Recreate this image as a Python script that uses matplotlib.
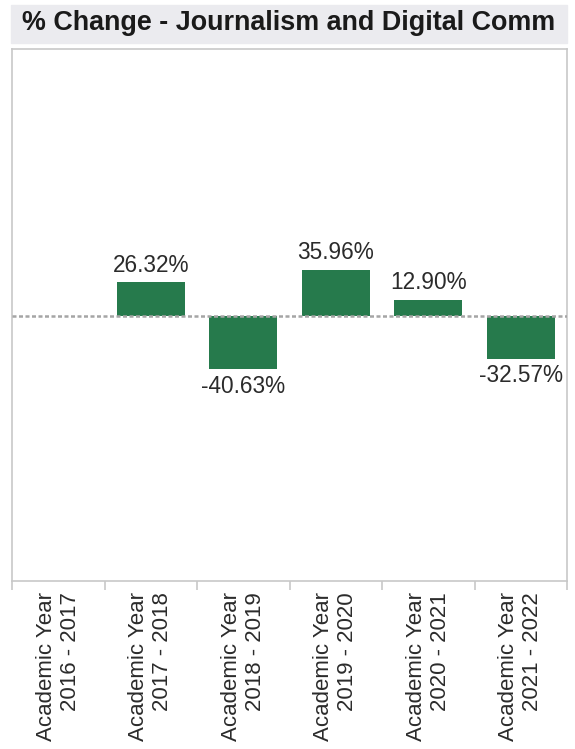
import matplotlib
matplotlib.use("Agg")
import matplotlib.pyplot as plt
from matplotlib.patches import Rectangle
from matplotlib.transforms import blended_transform_factory

# Year-over-year % change in enrolment
years = ["2016 - 2017", "2017 - 2018", "2018 - 2019",
         "2019 - 2020", "2020 - 2021", "2021 - 2022"]
pct_change = [None, 26.32, -40.63, 35.96, 12.90, -32.57]
title = "% Change - Journalism and Digital Comm"

plt.rcParams["font.family"] = ["Liberation Sans", "DejaVu Sans"]

W, H = 575, 749
fig = plt.figure(figsize=(W / 100, H / 100), dpi=100)

# grey title strip
fig.patches.append(Rectangle((11 / W, 1 - 43 / H), 556 / W, 38 / H,
                             transform=fig.transFigure, color="#ebebef", zorder=0))
fig.text(289 / W, 1 - 23 / H, title, ha="center", va="center",
         fontsize=19.4, fontweight="bold", color="#1a1a1a")

ax = fig.add_axes([12 / W, 1 - 581 / H, 555 / W, 532 / H])

x = list(range(len(years)))
for xi, v in zip(x, pct_change):
    if v is None:
        continue
    ax.bar(xi, v, width=0.73, color="#267a4c", zorder=2)
    off = 4 if v > 0 else -4
    ax.annotate(f"{v:.2f}%", (xi, v), xytext=(0, off), textcoords="offset points",
                ha="center", va="bottom" if v > 0 else "top",
                fontsize=16.3, color="#2b2b2b")

ax.axhline(0, color="#a5a5a5", lw=1.8, ls=(0, (1.6, 1.0)), zorder=3)

ax.set_xlim(-0.5, len(years) - 0.5)
ax.set_ylim(-204, 206)
ax.set_yticks([])

# ticks sit on the category boundaries
ax.set_xticks([i - 0.5 for i in range(len(years) + 1)])
ax.set_xticklabels([])
ax.tick_params(axis="x", length=6.5, color="#c8c8c8", width=1.2)

trans = blended_transform_factory(ax.transData, ax.transAxes)
for xi, yr in zip(x, years):
    ax.annotate(f"Academic Year\n{yr}", (xi, 0), xycoords=trans,
                xytext=(0, -8), textcoords="offset points",
                rotation=90, ha="center", va="top", multialignment="right",
                fontsize=16, color="#2b2b2b")

for s in ax.spines.values():
    s.set_color("#c8c8c8")
    s.set_linewidth(1.2)

fig.savefig("out.png", dpi=100)
